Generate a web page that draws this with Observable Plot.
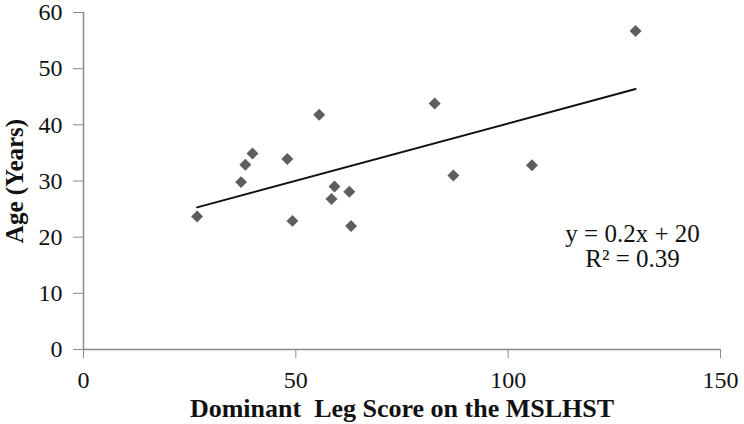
<!DOCTYPE html>
<html>
<head>
<meta charset="utf-8">
<script src="https://cdn.jsdelivr.net/npm/d3@7"></script>
<script src="https://cdn.jsdelivr.net/npm/@observablehq/plot@0.6"></script>
<style>
  html, body { margin: 0; padding: 0; background: #fff; }
  svg, svg text { font-family: "Liberation Serif", "Times New Roman", serif !important; }
</style>
</head>
<body>
<div id="chart"></div>
<script>
const scores = [26.75, 37.1, 38.1, 39.8, 48.0, 49.2, 55.5, 59.1, 58.4, 62.6, 63.0, 82.7, 87.1, 105.6, 130.0];
const ages   = [23.7, 29.8, 32.9, 34.9, 33.9, 22.9, 41.8, 29.0, 26.8, 28.1, 22.0, 43.8, 31.0, 32.8, 56.7];
const xTicks = [0, 50, 100, 150];
const yTicks = [0, 10, 20, 30, 40, 50, 60];
const xLabel = "Dominant\u00a0 Leg Score on the MSLHST";
const yLabel = "Age (Years)";
const equation = ["y = 0.2x + 20", "R\u00b2 = 0.39"];

const data = scores.map((s, i) => ({score: s, age: ages[i]}));
const serif = "'Liberation Serif', 'Times New Roman', serif";

const chart = Plot.plot({
  width: 744,
  height: 424,
  marginLeft: 83,
  marginRight: 24,
  marginTop: 12,
  marginBottom: 75,
  style: {fontFamily: serif, background: "#fff"},
  x: {domain: [0, 150]},
  y: {domain: [0, 60]},
  marks: [
    Plot.axisX({ticks: xTicks, tickSize: 9, tickPadding: 12, stroke: "#8a8a8a", fill: "#111", fontSize: 24, fontFamily: serif, label: null}),
    Plot.axisY({ticks: yTicks, tickSize: 10, tickPadding: 11, stroke: "#8a8a8a", fill: "#111", fontSize: 24, fontFamily: serif, label: null}),
    Plot.ruleX([0], {stroke: "#8a8a8a", strokeWidth: 1.5}),
    Plot.ruleY([0], {stroke: "#8a8a8a", strokeWidth: 1.5}),
    Plot.linearRegressionY(data, {x: "score", y: "age", ci: 0, stroke: "#111", strokeWidth: 2}),
    Plot.dot(data, {x: "score", y: "age", symbol: "diamond2", r: 5.4, fill: "#5e5e5e", stroke: "none"}),
    Plot.text([xLabel], {text: d => d, frameAnchor: "bottom", dy: 67, textAnchor: "middle", lineAnchor: "bottom", fontWeight: "bold", fontSize: 26, fontFamily: serif, fill: "#111"}),
    Plot.text([yLabel], {text: d => d, frameAnchor: "left", rotate: -90, dx: -69, textAnchor: "middle", lineAnchor: "middle", fontWeight: "bold", fontSize: 25, fontFamily: serif, fill: "#111"}),
    Plot.text([equation.join("\n")], {text: d => d, frameAnchor: "top-right", dx: -88, dy: 212, lineHeight: 1.0, textAnchor: "middle", lineAnchor: "top", fontSize: 25, fontFamily: serif, fill: "#111"})
  ]
});
document.getElementById("chart").appendChild(chart);
</script>
</body>
</html>
